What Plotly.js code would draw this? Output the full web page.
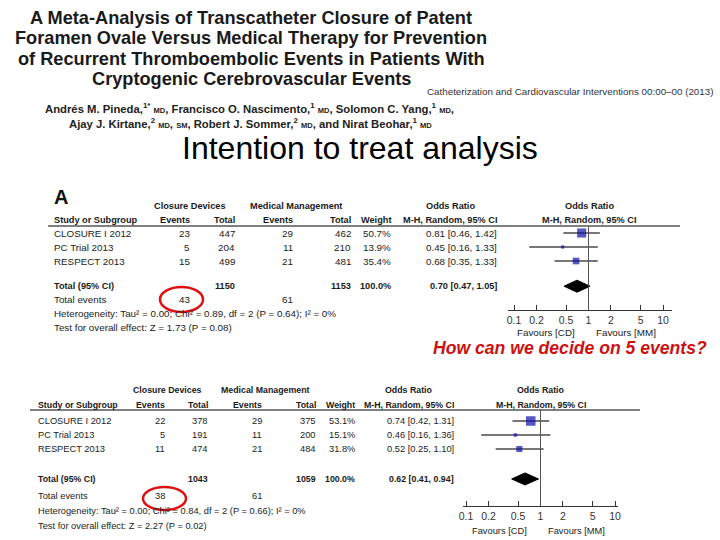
<!DOCTYPE html>
<html>
<head>
<meta charset="utf-8">
<script src="https://cdn.plot.ly/plotly-3.0.1.min.js"></script>
<style>
  html, body { margin: 0; padding: 0; background: #fff; }
  #chart { width: 720px; height: 540px; }
</style>
</head>
<body>
<div id="chart"></div>
<script>
// ── Data ─────────────────────────────────────────────────────────────────
const studies = ['CLOSURE I 2012', 'PC Trial 2013', 'RESPECT 2013'];
const orTicks = [0.1, 0.2, 0.5, 1, 2, 5, 10];

// A: intention to treat
const ittCdEvents = [23, 5, 15];
const ittCdTotal  = [447, 204, 499];
const ittMmEvents = [29, 11, 21];
const ittMmTotal  = [462, 210, 481];
const ittWeight   = [50.7, 13.9, 35.4];
const ittOr       = [0.81, 0.45, 0.68];
const ittLo       = [0.46, 0.16, 0.35];
const ittHi       = [1.42, 1.33, 1.33];
const ittPooled   = [0.70, 0.47, 1.05];   // OR, lower, upper
const ittTotals   = [1150, 1153];
const ittEvents   = [43, 61];
const ittHet  = 'Heterogeneity: Tau² = 0.00; Chi² = 0.89, df = 2 (P = 0.64); I² = 0%';
const ittTest = 'Test for overall effect: Z = 1.73 (P = 0.08)';

// second analysis
const ptCdEvents = [22, 5, 11];
const ptCdTotal  = [378, 191, 474];
const ptMmEvents = [29, 11, 21];
const ptMmTotal  = [375, 200, 484];
const ptWeight   = [53.1, 15.1, 31.8];
const ptOr       = [0.74, 0.46, 0.52];
const ptLo       = [0.42, 0.16, 0.25];
const ptHi       = [1.31, 1.36, 1.10];
const ptPooled   = [0.62, 0.41, 0.94];
const ptTotals   = [1043, 1059];
const ptEvents   = [38, 61];
const ptHet  = 'Heterogeneity: Tau² = 0.00; Chi² = 0.84, df = 2 (P = 0.66); I² = 0%';
const ptTest = 'Test for overall effect: Z = 2.27 (P = 0.02)';

// ── Helpers ──────────────────────────────────────────────────────────────
const W = 720, H = 540;
const FONT = 'Liberation Sans, Arial, Helvetica, sans-serif';
const px = x => x / W;
const py = y => 1 - y / H;
const DECADE = 74.5;   // pixels per log decade on the OR axes

const annotations = [];
const shapes = [];

function note(x, y, text, anchor, size, color, extra) {
  annotations.push(Object.assign({
    x: px(x), y: py(y), xref: 'paper', yref: 'paper',
    xanchor: anchor || 'left', yanchor: 'middle',
    text, showarrow: false,
    font: { family: FONT, size: size || 10, color: color || '#222' }
  }, extra || {}));
}

function hline(x0, x1, y, color, width) {
  shapes.push({ type: 'line', xref: 'paper', yref: 'paper',
    x0: px(x0), x1: px(x1), y0: py(y), y1: py(y),
    line: { color, width } });
}

const ci = (o, l, h) => `${o.toFixed(2)} [${l.toFixed(2)}, ${h.toFixed(2)}]`;

// ── Panels ───────────────────────────────────────────────────────────────
const panels = [
  {
    s: '', label: 'A', fs: 9.8, fb: 9.2,
    cdEv: ittCdEvents, cdTot: ittCdTotal, mmEv: ittMmEvents, mmTot: ittMmTotal,
    wt: ittWeight, or: ittOr, lo: ittLo, hi: ittHi, pooled: ittPooled,
    totals: ittTotals, events: ittEvents, het: ittHet, test: ittTest,
    g: { row0: 233, dy: 14, totalRow: 3.8, lineY: 226, axisY: 310,
         xL: 508, xR: 672, tick01: 514, hdr1: 206, hdr2: 220,
         eventsY: 299, hetY: 313, testY: 327, favY: 332,
         left: 52, lineL: 48, lineR: 680,
         cCdEv: 192, cCdTot: 237, cMmEv: 295, cMmTot: 353, cWt: 393, cCi: 499,
         cdHead: 190, mmHead: 296, orHead: 450, plotHead: 589,
         ring: [160, 287, 203, 312] }
  },
  {
    s: '2', label: '', fs: 9.3, fb: 8.8,
    cdEv: ptCdEvents, cdTot: ptCdTotal, mmEv: ptMmEvents, mmTot: ptMmTotal,
    wt: ptWeight, or: ptOr, lo: ptLo, hi: ptHi, pooled: ptPooled,
    totals: ptTotals, events: ptEvents, het: ptHet, test: ptTest,
    g: { row0: 421, dy: 14, totalRow: 4.14, lineY: 410, axisY: 506,
         xL: 463, xR: 618, tick01: 466, hdr1: 390, hdr2: 405,
         eventsY: 496, hetY: 511, testY: 526, favY: 531,
         left: 36, lineL: 30, lineR: 640,
         cCdEv: 167, cCdTot: 210, cMmEv: 264, cMmTot: 318, cWt: 357, cCi: 456,
         cdHead: 167, mmHead: 265, orHead: 409, plotHead: 541,
         ring: [143, 487, 186, 510] }
  }
];

const traces = [];
const layout = {
  width: W, height: H,
  margin: { l: 0, r: 0, t: 0, b: 0 },
  paper_bgcolor: '#FFFFFF', plot_bgcolor: 'rgba(0,0,0,0)',
  showlegend: false,
  font: { family: FONT }
};

panels.forEach(p => {
  const g = p.g;
  const rowPx = i => g.row0 + g.dy * i;
  const rows = studies.map((_, i) => i);
  const [pOr, pLo, pHi] = p.pooled;
  const T = (x, y, t, a) => note(x, y, t, a, p.fs);
  const B = (x, y, t, a) => note(x, y, '<b>' + t + '</b>', a, p.fb, '#1a1a1a');

  // study squares with CI whiskers
  traces.push({
    type: 'scatter', mode: 'markers',
    x: p.or, y: rows,
    xaxis: 'x' + p.s, yaxis: 'y' + p.s,
    marker: { symbol: 'square', size: p.wt.map(w => 1 + 0.16 * w), color: '#1010a6',
              line: { width: 0 } },
    error_x: { type: 'data', symmetric: false,
               array: p.hi.map((h, i) => h - p.or[i]),
               arrayminus: p.lo.map((l, i) => p.or[i] - l),
               width: 0, color: '#4a4a4a', thickness: 1.3 },
    hoverinfo: 'skip'
  });

  // pooled diamond
  const tr = g.totalRow, hh = 0.43;
  traces.push({
    type: 'scatter', mode: 'lines',
    x: [pLo, pOr, pHi, pOr, pLo],
    y: [tr, tr - hh, tr, tr + hh, tr],
    xaxis: 'x' + p.s, yaxis: 'y' + p.s,
    fill: 'toself', fillcolor: '#000', line: { color: '#000', width: 1 },
    hoverinfo: 'skip'
  });

  const left = -1 - (g.tick01 - g.xL) / DECADE;
  layout['xaxis' + p.s] = {
    type: 'log',
    domain: [px(g.xL), px(g.xR)],
    range: [left, left + (g.xR - g.xL) / DECADE],
    anchor: 'y' + p.s,
    tickvals: orTicks, ticktext: orTicks.map(String),
    ticks: 'inside', ticklen: 5, tickcolor: '#333',
    showline: true, linecolor: '#333', linewidth: 1,
    showgrid: false, zeroline: false,
    tickfont: { family: FONT, size: 10.5, color: '#333' }
  };
  layout['yaxis' + p.s] = {
    domain: [py(g.axisY), py(g.lineY)],
    range: [(g.axisY - g.row0) / g.dy, (g.lineY - g.row0) / g.dy],
    anchor: 'x' + p.s, visible: false
  };

  // line of no effect
  shapes.push({ type: 'line', xref: 'x' + p.s, yref: 'y' + p.s + ' domain',
    x0: 1, x1: 1, y0: 0, y1: 1, line: { color: '#555', width: 1 } });
  // header rule
  hline(g.lineL, g.lineR, g.lineY, '#555', 1.3);
  // red ring round the event count
  shapes.push({ type: 'circle', xref: 'paper', yref: 'paper',
    x0: px(g.ring[0]), x1: px(g.ring[2]), y0: py(g.ring[3]), y1: py(g.ring[1]),
    line: { color: '#dd1111', width: 2.5 } });

  // table header
  if (p.label) note(g.left, 197, '<b>' + p.label + '</b>', 'left', 20, '#111');
  B(g.cdHead, g.hdr1, 'Closure Devices', 'center');
  B(g.mmHead, g.hdr1, 'Medical Management', 'center');
  B(g.orHead, g.hdr1, 'Odds Ratio', 'center');
  B(g.plotHead, g.hdr1, 'Odds Ratio', 'center');
  B(g.left, g.hdr2, 'Study or Subgroup', 'left');
  B(g.cCdEv, g.hdr2, 'Events', 'right');
  B(g.cCdTot, g.hdr2, 'Total', 'right');
  B(g.cMmEv, g.hdr2, 'Events', 'right');
  B(g.cMmTot, g.hdr2, 'Total', 'right');
  B(g.cWt, g.hdr2, 'Weight', 'right');
  B(g.cCi, g.hdr2, 'M-H, Random, 95% CI', 'right');
  B(g.plotHead, g.hdr2, 'M-H, Random, 95% CI', 'center');

  // study rows
  studies.forEach((name, i) => {
    const y = rowPx(i);
    T(g.left, y, name, 'left');
    T(g.cCdEv, y, String(p.cdEv[i]), 'right');
    T(g.cCdTot, y, String(p.cdTot[i]), 'right');
    T(g.cMmEv, y, String(p.mmEv[i]), 'right');
    T(g.cMmTot, y, String(p.mmTot[i]), 'right');
    T(g.cWt, y, p.wt[i].toFixed(1) + '%', 'right');
    T(g.cCi, y, ci(p.or[i], p.lo[i], p.hi[i]), 'right');
  });

  // totals
  const ty = rowPx(g.totalRow);
  B(g.left, ty, 'Total (95% CI)', 'left');
  B(g.cCdTot, ty, String(p.totals[0]), 'right');
  B(g.cMmTot, ty, String(p.totals[1]), 'right');
  B(g.cWt, ty, p.wt.reduce((a, b) => a + b, 0).toFixed(1) + '%', 'right');
  B(g.cCi, ty, ci(pOr, pLo, pHi), 'right');
  T(g.left, g.eventsY, 'Total events', 'left');
  T(g.cCdEv, g.eventsY, String(p.events[0]), 'right');
  T(g.cMmEv, g.eventsY, String(p.events[1]), 'right');
  T(g.left, g.hetY, p.het, 'left');
  T(g.left, g.testY, p.test, 'left');

  // favours labels either side of OR = 1
  const onePx = g.tick01 + DECADE;
  T(onePx - 12, g.favY, 'Favours [CD]', 'right');
  T(onePx + 5, g.favY, 'Favours [MM]', 'left');
});

// ── Slide header ─────────────────────────────────────────────────────────
const titleLines = [
  'A Meta-Analysis of Transcatheter Closure of Patent',
  'Foramen Ovale Versus Medical Therapy for Prevention',
  'of Recurrent Thromboembolic Events in Patients With',
  'Cryptogenic Cerebrovascular Events'
];
titleLines.forEach((t, i) => note(251, 18 + 20.4 * i, '<b>' + t + '</b>', 'center', 18.2, '#1a1a1a'));

note(715, 91, 'Catheterization and Cardiovascular Interventions 00:00–00 (2013)', 'right', 9.8, '#333');

const md = '<span style="font-size:7.5px">MD</span>';
const sm = '<span style="font-size:7.5px">SM</span>';
note(249, 108, `<b>Andrés M. Pineda,<sup>1*</sup> ${md}, Francisco O. Nascimento,<sup>1</sup> ${md}, Solomon C. Yang,<sup>1</sup> ${md},</b>`, 'center', 11.3, '#222');
note(250, 123, `<b>Ajay J. Kirtane,<sup>2</sup> ${md}, ${sm}, Robert J. Sommer,<sup>2</sup> ${md}, and Nirat Beohar,<sup>1</sup> ${md}</b>`, 'center', 11.3, '#222');

note(360, 148, 'Intention to treat analysis', 'center', 32, '#000');

note(570, 348, '<b><i>How can we decide on 5 events?</i></b>', 'center', 17.6, '#cc1111');

layout.annotations = annotations;
layout.shapes = shapes;

Plotly.newPlot('chart', traces, layout, { displayModeBar: false, staticPlot: true });
</script>
</body>
</html>
